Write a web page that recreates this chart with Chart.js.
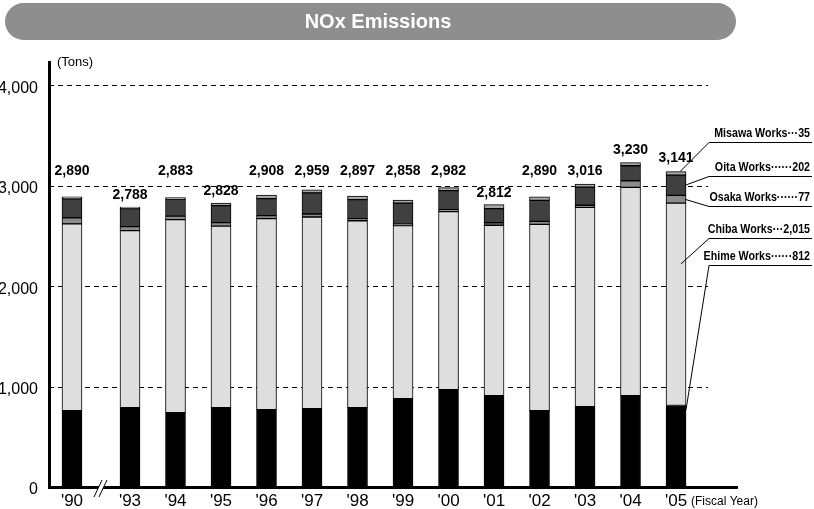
<!DOCTYPE html>
<html>
<head>
<meta charset="utf-8">
<title>NOx Emissions</title>
<script src="https://cdn.jsdelivr.net/npm/chart.js@4.4.1/dist/chart.umd.min.js"></script>
<style>
  html, body { margin: 0; padding: 0; background: #fff; }
  #wrap { width: 814px; height: 509px; position: relative; }
</style>
</head>
<body>
<div id="wrap"><canvas id="c" width="814" height="509"></canvas></div>
<script>
// Fiscal years and emissions by works (tons)
const years  = ["'90", "'93", "'94", "'95", "'96", "'97", "'98", "'99", "'00", "'01", "'02", "'03", "'04", "'05"];
const ehime  = [760, 790, 740, 790, 770, 780, 790, 880, 970, 910, 760, 800, 910, 812];
const chiba  = [1860, 1763, 1923, 1808, 1903, 1909, 1862, 1723, 1772, 1697, 1855, 1986, 2075, 2015];
const osaka  = [60, 40, 35, 35, 30, 30, 20, 15, 20, 25, 30, 20, 65, 77];
const oita   = [190, 180, 170, 170, 170, 210, 190, 210, 190, 140, 210, 180, 150, 202];
const misawa = [20, 15, 15, 25, 35, 30, 35, 30, 30, 40, 35, 30, 30, 35];
const totals = [2890, 2788, 2883, 2828, 2908, 2959, 2897, 2858, 2982, 2812, 2890, 3016, 3230, 3141];
const yTicks = [0, 1000, 2000, 3000, 4000];

const FONT = "'Liberation Sans', Arial, Helvetica, sans-serif";

// the axis is broken between '90 and '93, so the first gap is a little wider
const BREAK_EXTRA = 0.275;
const slot = i => (i === 0 ? 0 : i + BREAK_EXTRA);
const slots = years.map((_, i) => slot(i));

const toPoints = arr => arr.map((v, i) => ({ x: slot(i), y: v }));
const fmt = v => v.toLocaleString('en-US');

function series(label, values, color) {
  return {
    label, data: toPoints(values), backgroundColor: color,
    borderColor: '#000', borderWidth: 1, borderSkipped: false,
    barThickness: 20
  };
}

// works annotated at the right, with their latest-year figure
const dots = n => '\u00b7'.repeat(n);
const notes = [
  { name: 'Misawa Works', dots: dots(3), values: misawa, row: 133 },
  { name: 'Oita Works',   dots: dots(6), values: oita,   row: 167 },
  { name: 'Osaka Works',  dots: dots(6), values: osaka,  row: 197 },
  { name: 'Chiba Works',  dots: dots(3), values: chiba,  row: 229 },
  { name: 'Ehime Works',  dots: dots(6), values: ehime,  row: 256 }
];

const decor = {
  id: 'decor',
  beforeDraw(chart) {
    const ctx = chart.ctx;
    ctx.save();
    ctx.fillStyle = '#fff';
    ctx.fillRect(0, 0, chart.width, chart.height);
    // title pill
    const x0 = 5, x1 = 736, y0 = 3, y1 = 40, r = (y1 - y0) / 2;
    ctx.fillStyle = '#8e8e8e';
    ctx.beginPath();
    ctx.moveTo(x0 + r, y0);
    ctx.lineTo(x1 - r, y0);
    ctx.arc(x1 - r, y0 + r, r, -Math.PI / 2, Math.PI / 2);
    ctx.lineTo(x0 + r, y1);
    ctx.arc(x0 + r, y0 + r, r, Math.PI / 2, Math.PI * 1.5);
    ctx.closePath();
    ctx.fill();
    ctx.fillStyle = '#fff';
    ctx.font = `bold 20px ${FONT}`;
    ctx.textAlign = 'center';
    ctx.textBaseline = 'middle';
    ctx.fillText('NOx Emissions', 378, 22);
    // unit
    ctx.fillStyle = '#000';
    ctx.font = `13px ${FONT}`;
    ctx.textAlign = 'left';
    ctx.fillText('(Tons)', 57, 62);
    ctx.restore();
  },
  beforeDatasetsDraw(chart) {
    const { ctx, chartArea, scales: { y } } = chart;
    ctx.save();
    ctx.strokeStyle = '#000';
    ctx.lineWidth = 1;
    ctx.setLineDash([5, 4]);
    yTicks.forEach(v => {
      if (v === 0) return;
      const py = Math.round(y.getPixelForValue(v)) + 0.5;
      ctx.beginPath();
      ctx.moveTo(chartArea.left, py);
      ctx.lineTo(708, py);
      ctx.stroke();
    });
    ctx.restore();
  },
  afterDatasetsDraw(chart) {
    const { ctx, chartArea, scales: { x, y } } = chart;
    ctx.save();
    // totals above the bars
    ctx.fillStyle = '#000';
    ctx.font = `bold 14px ${FONT}`;
    ctx.textAlign = 'center';
    ctx.textBaseline = 'middle';
    totals.forEach((t, i) => {
      const px = x.getPixelForValue(slot(i));
      const top = y.getPixelForValue(t);
      let py;
      if (t < 2850) py = top - 12;
      else if (t < 3100) py = y.getPixelForValue(3150);
      else py = top - 13;
      ctx.fillText(fmt(t), px, py);
    });

    // axis break
    const mid = (x.getPixelForValue(slot(0)) + x.getPixelForValue(slot(1))) / 2 - 1;
    const by = chartArea.bottom;
    ctx.fillStyle = '#fff';
    ctx.beginPath();
    ctx.moveTo(mid - 6, by + 10);
    ctx.lineTo(mid + 2, by - 7);
    ctx.lineTo(mid + 7, by - 7);
    ctx.lineTo(mid - 1, by + 10);
    ctx.closePath();
    ctx.fill();
    ctx.strokeStyle = '#000';
    ctx.lineWidth = 1;
    [[-6, 2], [-1, 7]].forEach(([a, b]) => {
      ctx.beginPath();
      ctx.moveTo(mid + a, by + 10);
      ctx.lineTo(mid + b, by - 7);
      ctx.stroke();
    });

    // annotations for the latest year
    const last = years.length - 1;
    const bx = x.getPixelForValue(slot(last));
    const e = ehime[last], c = chiba[last], os = osaka[last], oi = oita[last];
    const targets = [
      [bx + 4, y.getPixelForValue(totals[last])],
      [bx + 9, y.getPixelForValue(e + c + os + oi / 2)],
      [bx + 9, y.getPixelForValue(e + c + os / 2)],
      [bx + 5, y.getPixelForValue(e + c * 0.7)],
      [bx + 10, y.getPixelForValue(e * 0.95)]
    ];
    ctx.fillStyle = '#000';
    ctx.strokeStyle = '#000';
    ctx.lineWidth = 1;
    notes.forEach((n, k) => {
      // condensed lettering: narrow the glyphs horizontally
      ctx.save();
      ctx.translate(810, n.row);
      ctx.scale(0.82, 1);
      ctx.font = `bold 13px ${FONT}`;
      ctx.textAlign = 'right';
      ctx.textBaseline = 'middle';
      ctx.fillText(n.name + n.dots + fmt(n.values[last]), 0, 0);
      ctx.restore();
      const uy = n.row + 9.5;
      ctx.beginPath();
      ctx.moveTo(812, uy);
      ctx.lineTo(709, uy);
      ctx.lineTo(targets[k][0], targets[k][1]);
      ctx.stroke();
    });

    // x-axis caption
    ctx.font = `12px ${FONT}`;
    ctx.textAlign = 'left';
    ctx.textBaseline = 'middle';
    ctx.fillText('(Fiscal Year)', 691, 502);
    ctx.restore();
  }
};

new Chart(document.getElementById('c'), {
  type: 'bar',
  data: {
    datasets: [
      series('Ehime Works', ehime, '#000000'),
      series('Chiba Works', chiba, '#dedede'),
      series('Osaka Works', osaka, '#8c8c8c'),
      series('Oita Works', oita, '#404040'),
      series('Misawa Works', misawa, '#a8a8a8')
    ]
  },
  options: {
    responsive: false,
    animation: false,
    devicePixelRatio: 1,
    layout: { padding: { top: 62, right: 77, left: 0, bottom: 0 } },
    plugins: { legend: { display: false }, tooltip: { enabled: false }, title: { display: false } },
    scales: {
      x: {
        type: 'linear',
        stacked: true,
        offset: false,
        min: -0.505,
        max: 14.615,
        grid: { display: false, drawTicks: false },
        border: { display: true, color: '#000', width: 3 },
        afterBuildTicks: s => { s.ticks = slots.map(v => ({ value: v })); },
        afterFit: s => { s.height = 22; },
        ticks: {
          autoSkip: false, maxRotation: 0, minRotation: 0, padding: 4,
          color: '#000', font: { family: FONT, size: 17 },
          callback: (v, i) => years[i]
        }
      },
      y: {
        stacked: true,
        min: 0,
        max: 4233,
        grid: { display: false, drawTicks: false },
        border: { display: true, color: '#000', width: 3 },
        afterBuildTicks: s => { s.ticks = yTicks.map(v => ({ value: v })); },
        afterFit: s => { s.width = 49; },
        ticks: {
          padding: 11, labelOffset: 3,
          color: '#000', font: { family: FONT, size: 16 },
          callback: v => fmt(v)
        }
      }
    }
  },
  plugins: [decor]
});
</script>
</body>
</html>
